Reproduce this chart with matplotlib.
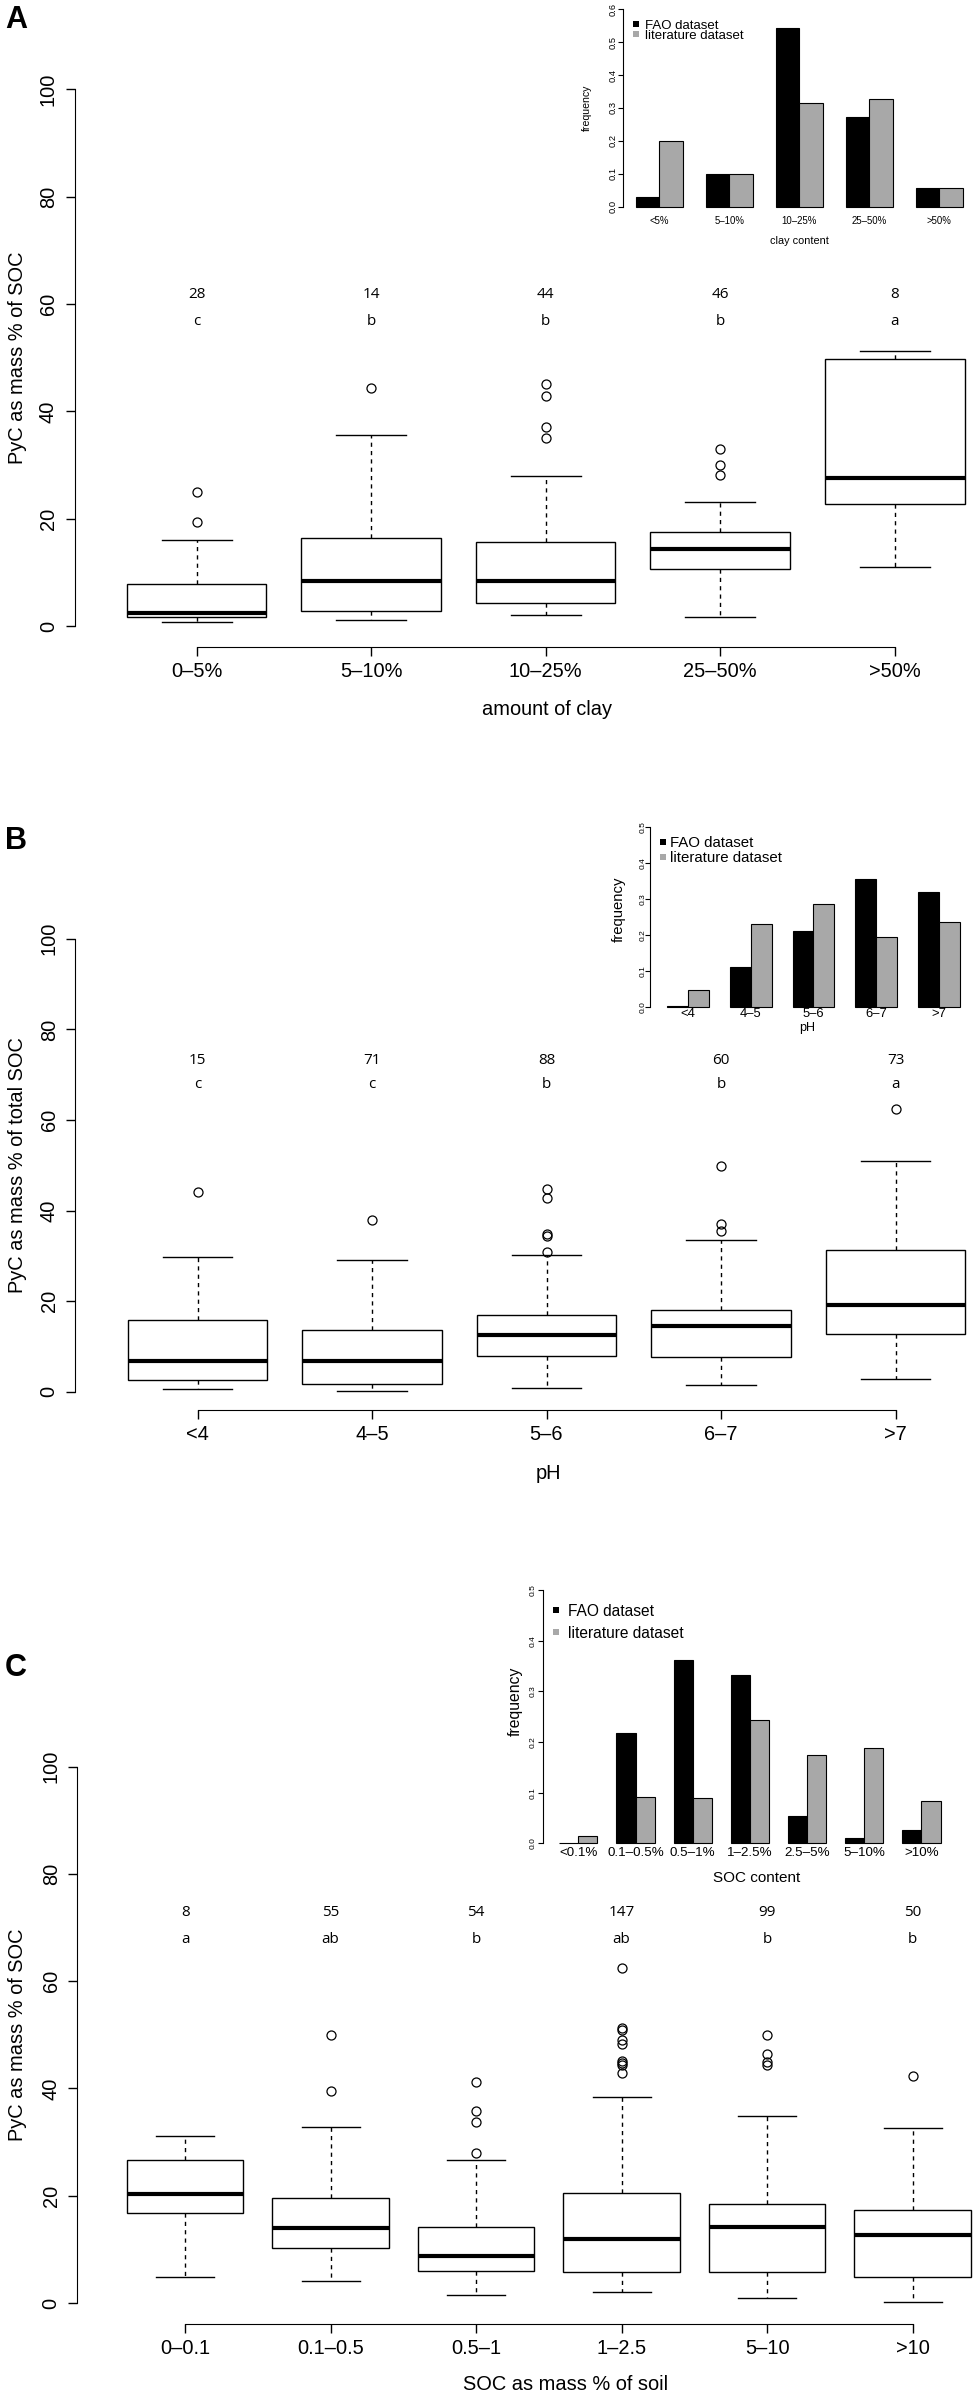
import matplotlib
matplotlib.use("Agg")
import matplotlib.pyplot as plt
from matplotlib.lines import Line2D

plt.rcParams['font.family'] = ['Liberation Sans', 'DejaVu Sans']

# ---------------- data: panel A (clay) ----------------
clay_labels = ["0–5%", "5–10%", "10–25%", "25–50%", ">50%"]
clay_n = [28, 14, 44, 46, 8]
clay_letters = ["c", "b", "b", "b", "a"]
clay_q1 = [1.6, 2.85, 4.2, 10.7, 22.8]
clay_med = [2.4, 8.3, 8.3, 14.4, 27.5]
clay_q3 = [7.8, 16.4, 15.7, 17.6, 49.8]
clay_lo = [0.7, 1.2, 2.0, 1.7, 10.9]
clay_hi = [16.0, 35.6, 27.9, 23.1, 51.2]
clay_out = [[19.4, 25.0], [44.4], [35.0, 37.1, 42.9, 45.1], [28.1, 30.0, 33.0], []]

clay_inset_labels = ["<5%", "5–10%", "10–25%", "25–50%", ">50%"]
clay_fao = [0.030, 0.099, 0.544, 0.272, 0.058]
clay_lit = [0.200, 0.100, 0.314, 0.328, 0.056]

# ---------------- data: panel B (pH) ----------------
ph_labels = ["<4", "4–5", "5–6", "6–7", ">7"]
ph_n = [15, 71, 88, 60, 73]
ph_letters = ["c", "c", "b", "b", "a"]
ph_q1 = [2.5, 1.7, 7.8, 7.7, 12.7]
ph_med = [6.8, 6.9, 12.6, 14.6, 19.1]
ph_q3 = [15.8, 13.7, 16.9, 18.1, 31.3]
ph_lo = [0.6, 0.1, 0.9, 1.4, 2.8]
ph_hi = [29.8, 29.1, 30.2, 33.6, 51.0]
ph_out = [[44.1], [38.0], [30.9, 34.3, 34.8, 42.7, 44.8], [35.5, 37.0, 49.9], [62.4]]

ph_inset_labels = ["<4", "4–5", "5–6", "6–7", ">7"]
ph_fao = [0.002, 0.111, 0.211, 0.355, 0.321]
ph_lit = [0.048, 0.231, 0.287, 0.195, 0.237]

# ---------------- data: panel C (SOC) ----------------
soc_labels = ["0–0.1", "0.1–0.5", "0.5–1", "1–2.5", "5–10", ">10"]
soc_n = [8, 55, 54, 147, 99, 50]
soc_letters = ["a", "ab", "b", "ab", "b", "b"]
soc_q1 = [16.7, 10.2, 5.9, 5.7, 5.8, 4.9]
soc_med = [20.4, 14.0, 8.8, 12.0, 14.1, 12.7]
soc_q3 = [26.6, 19.5, 14.2, 20.5, 18.4, 17.3]
soc_lo = [4.9, 4.1, 1.5, 2.0, 0.85, 0.2]
soc_hi = [31.1, 32.8, 26.7, 38.4, 34.9, 32.6]
soc_out = [[], [39.5, 50.0], [27.9, 33.7, 35.8, 41.2],
           [42.9, 44.3, 44.7, 45.2, 48.2, 49.0, 50.8, 51.3, 62.5],
           [44.3, 44.9, 46.4, 50.0], [42.4]]

soc_inset_labels = ["<0.1%", "0.1–0.5%", "0.5–1%", "1–2.5%", "2.5–5%", "5–10%", ">10%"]
soc_fao = [0.001, 0.217, 0.362, 0.333, 0.053, 0.010, 0.027]
soc_lit = [0.014, 0.091, 0.089, 0.243, 0.174, 0.189, 0.084]

GRAY = '#a8a8a8'
W, H = 973, 2396
fig = plt.figure(figsize=(W / 100, H / 100), dpi=100)


def px_axes(x0, x1, ytop, ybot):
    return fig.add_axes([x0 / W, 1 - ybot / H, (x1 - x0) / W, (ybot - ytop) / H])


def fig_text(x, y, s, **kw):
    fig.text(x / W, 1 - y / H, s, ha='center', va='center', **kw)


def box_panel(c1, unit, zero, ppu, labels, q1, med, q3, lo, hi, out,
              counts, letters, count_y, letter_y):
    n = len(labels)
    xl, xr = 0.5 - 0.04 * n, n + 0.5 + 0.04 * n
    ax = px_axes(c1 + (xl - 1) * unit, c1 + (xr - 1) * unit,
                 zero - 104 * ppu, zero + 4 * ppu)
    stats = [dict(q1=a, med=m, q3=b, whislo=l, whishi=h, fliers=f)
             for a, m, b, l, h, f in zip(q1, med, q3, lo, hi, out)]
    ax.bxp(stats, positions=range(1, n + 1), widths=0.8, capwidths=0.4,
           patch_artist=True,
           boxprops=dict(facecolor='white', edgecolor='black', lw=1.0),
           medianprops=dict(color='black', lw=3.0, solid_capstyle='butt'),
           whiskerprops=dict(color='black', lw=1.0, ls=(0, (3, 3))),
           capprops=dict(color='black', lw=1.0),
           flierprops=dict(marker='o', mfc='none', mec='black', ms=6.5, mew=0.9))
    ax.set_xlim(xl, xr)
    ax.set_ylim(-4, 104)
    for s in ['top', 'right']:
        ax.spines[s].set_visible(False)
    ax.spines['left'].set_bounds(0, 100)
    ax.spines['bottom'].set_bounds(1, n)
    ax.set_facecolor('none')
    ax.set_yticks(range(0, 101, 20), [str(v) for v in range(0, 101, 20)],
                  rotation=90, rotation_mode='anchor', ha='center', va='baseline')
    ax.set_xticks(range(1, n + 1), labels)
    ax.tick_params(axis='y', length=6.5, width=1, pad=8.4, labelsize=14.4)
    ax.tick_params(axis='x', length=6.5, width=1, pad=4.3, labelsize=14.4)
    for i in range(n):
        ax.text(i + 1, count_y, str(counts[i]), ha='center', va='center',
                fontsize=11, family=['Open Sans', 'DejaVu Sans'])
        ax.text(i + 1, letter_y, letters[i], ha='center', va='center',
                fontsize=11, family=['Open Sans', 'DejaVu Sans'])
    return ax


def bar_inset(axis_px, bar_px, unit, zero, top, ymax, labels, fao, lit,
              ytick_fs, ytick_pad, xtick_fs, xtick_pad):
    n = len(labels)
    xl = 1 - (bar_px - axis_px) / unit
    xr = 3 * n + 0.56
    ax = px_axes(axis_px, axis_px + (xr - xl) * unit, top, zero)
    x_fao = [1 + 3 * i for i in range(n)]
    x_lit = [2 + 3 * i for i in range(n)]
    ax.bar(x_fao, fao, width=1, align='edge', color='black',
           edgecolor='black', lw=0.8, clip_on=False)
    ax.bar(x_lit, lit, width=1, align='edge', color=GRAY,
           edgecolor='black', lw=0.8, clip_on=False)
    ax.set_xlim(xl, xr)
    ax.set_ylim(0, ymax)
    for s in ['top', 'right', 'bottom']:
        ax.spines[s].set_visible(False)
    ax.spines['left'].set_linewidth(0.8)
    ax.set_facecolor('none')
    yt = [k / 10 for k in range(int(round(ymax * 10)) + 1)]
    ax.set_yticks(yt, [f"{v:.1f}" for v in yt], rotation=90,
                  rotation_mode='anchor', ha='center', va='baseline')
    ax.set_xticks([2 + 3 * i for i in range(n)], labels)
    ax.tick_params(axis='y', length=3.6, width=0.8, pad=ytick_pad, labelsize=ytick_fs)
    ax.tick_params(axis='x', length=0, pad=xtick_pad, labelsize=xtick_fs)
    return ax


def legend(ax, left, top, fs, htp, ls):
    handles = [Line2D([], [], ls='', marker='s', ms=3.8, mew=0, color='black'),
               Line2D([], [], ls='', marker='s', ms=3.8, mew=0, color=GRAY)]
    ax.legend(handles, ['FAO dataset', 'literature dataset'], loc='upper left',
              bbox_to_anchor=(left / W, 1 - top / H), bbox_transform=fig.transFigure,
              frameon=False, fontsize=fs, handlelength=0.6, handletextpad=htp,
              labelspacing=ls, borderpad=0, borderaxespad=0)


# ---------------- panel A ----------------
box_panel(196.7, 174.5, 626, 5.367, clay_labels, clay_q1, clay_med, clay_q3,
          clay_lo, clay_hi, clay_out, clay_n, clay_letters, 61.8, 56.7)
fig_text(18, 357.6, "PyC as mass % of SOC", fontsize=14.4, rotation=90)
fig_text(546.6, 710, "amount of clay", fontsize=14.4)
fig_text(16, 20.4, "A", fontsize=22, fontweight='bold')

axA = bar_inset(622.7, 636, 23.33, 206.7, 9.3, 0.6, clay_inset_labels,
                clay_fao, clay_lit, 6.7, 1.7, 6.9, 7)
legend(axA, 632, 19.4, 9.5, 0.39, -0.14)
fig_text(586.7, 108, "frequency", fontsize=7.6, rotation=90)
fig_text(799.3, 240.7, "clay content", fontsize=7.8)

# ---------------- panel B ----------------
box_panel(197.5, 174.5, 1391.8, 4.53, ph_labels, ph_q1, ph_med, ph_q3,
          ph_lo, ph_hi, ph_out, ph_n, ph_letters, 73.2, 67.8)
fig_text(18, 1165.3, "PyC as mass % of total SOC", fontsize=14.4, rotation=90)
fig_text(548, 1473.5, "pH", fontsize=14.4)
fig_text(16, 840.8, "B", fontsize=22, fontweight='bold')

axB = bar_inset(650, 666.7, 20.97, 1007, 827.3, 0.5, ph_inset_labels,
                ph_fao, ph_lit, 6, 0, 9.4, 0.5)
legend(axB, 658.8, 835.8, 10.8, 0.15, 0.07)
fig_text(618.3, 909, "frequency", fontsize=10.7, rotation=90)
fig_text(807, 1028.3, "pH", fontsize=9)

# ---------------- panel C ----------------
box_panel(185.1, 145.5, 2303, 5.365, soc_labels, soc_q1, soc_med, soc_q3,
          soc_lo, soc_hi, soc_out, soc_n, soc_letters, 72.7, 67.7)
fig_text(18, 2034.7, "PyC as mass % of SOC", fontsize=14.4, rotation=90)
fig_text(566, 2384.3, "SOC as mass % of soil", fontsize=14.4)
fig_text(16, 1668.5, "C", fontsize=22, fontweight='bold')

axC = bar_inset(543.3, 559.3, 19.06, 1843.3, 1590, 0.5, soc_inset_labels,
                soc_fao, soc_lit, 6, 2.9, 9.6, 2.4)
legend(axC, 551, 1603.9, 11.2, 0.51, 0.43)
fig_text(515, 1701.7, "frequency", fontsize=11.3, rotation=90)
fig_text(756.7, 1877.7, "SOC content", fontsize=11)

fig.savefig("out.png", dpi=100)
